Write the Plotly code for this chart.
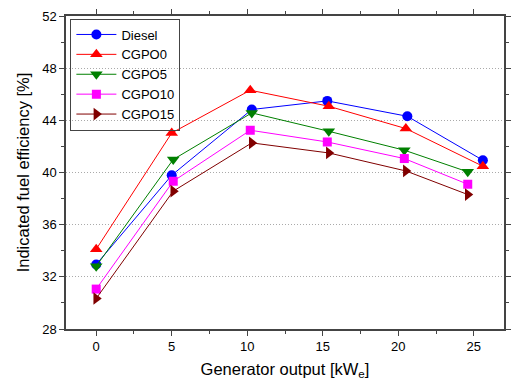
import plotly.graph_objects as go

names = ["Diesel", "CGPO0", "CGPO5", "CGPO10", "CGPO15"]
x_diesel = [0, 5.0, 10.3, 15.3, 20.6, 25.6]
y_diesel = [32.95, 39.79, 44.83, 45.49, 44.31, 40.94]
x_cgpo0 = [0, 5.0, 10.2, 15.4, 20.5, 25.6]
y_cgpo0 = [34.12, 43.03, 46.31, 45.08, 43.37, 40.48]
x_cgpo5 = [0, 5.1, 10.3, 15.4, 20.4, 24.6]
y_cgpo5 = [32.82, 41.0, 44.57, 43.16, 41.71, 40.05]
x_cgpo10 = [0, 5.1, 10.2, 15.3, 20.4, 24.6]
y_cgpo10 = [31.06, 39.33, 43.24, 42.34, 41.07, 39.1]
x_cgpo15 = [0, 5.1, 10.3, 15.4, 20.5, 24.6]
y_cgpo15 = [30.34, 38.57, 42.27, 41.5, 40.12, 38.31]

xs = [x_diesel, x_cgpo0, x_cgpo5, x_cgpo10, x_cgpo15]
ys = [y_diesel, y_cgpo0, y_cgpo5, y_cgpo10, y_cgpo15]
colors = ["#0000FF", "#FF0000", "#008000", "#FF00FF", "#800000"]
symbols = ["circle", "triangle-up", "triangle-down", "square", "triangle-right"]
sizes = [10, 11, 11, 9, 11]

fig = go.Figure()
for n, x, y, c, s, sz in zip(names, xs, ys, colors, symbols, sizes):
    fig.add_trace(go.Scatter(x=x, y=y, name=n, mode="lines+markers",
                             line=dict(color=c, width=1),
                             marker=dict(symbol=s, size=sz, color=c)))

axis_common = dict(showline=True, linecolor="#444", linewidth=1.5, mirror="ticks",
                   ticks="outside", ticklen=5, tickwidth=1, tickcolor="#444",
                   zeroline=False, tickfont=dict(size=13, color="black"))

fig.update_layout(
    width=513, height=384,
    margin=dict(l=66, r=2, t=16, b=55),
    paper_bgcolor="white", plot_bgcolor="white",
    font=dict(family="Liberation Sans, Arial, sans-serif", color="black"),
    showlegend=True,
    legend=dict(x=0.01, y=0.992, xanchor="left", yanchor="top",
                bordercolor="#444", borderwidth=1, bgcolor="rgba(255,255,255,0)",
                font=dict(size=13), tracegroupgap=0, itemwidth=40),
    xaxis=dict(range=[-2, 27], tickvals=[0, 5, 10, 15, 20, 25], showgrid=False,
               minor=dict(ticks="outside", ticklen=3, dtick=2.5, tick0=0, tickcolor="#444"),
               title=dict(text="Generator output [kW<sub>e</sub>]", font=dict(size=16.5), standoff=10),
               **axis_common),
    yaxis=dict(range=[28, 52], tickvals=[28, 32, 36, 40, 44, 48, 52], showgrid=True,
               gridcolor="#aaa", griddash="1px,2px", gridwidth=1,
               minor=dict(ticks="outside", ticklen=3, dtick=2, tick0=28, tickcolor="#444", showgrid=False),
               title=dict(text="Indicated fuel efficiency [%]", font=dict(size=16.5), standoff=8),
               **axis_common),
)

fig.write_html("out.html")
